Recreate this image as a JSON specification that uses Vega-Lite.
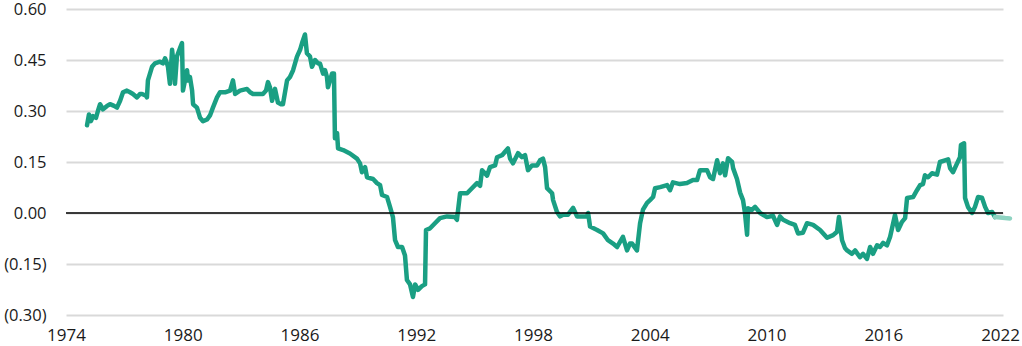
{
  "$schema": "https://vega.github.io/schema/vega-lite/v6.json",
  "width": 937,
  "height": 306,
  "autosize": {"type": "none"},
  "padding": {"left": 66, "top": 9, "right": 19, "bottom": 31},
  "background": "white",
  "config": {"view": {"stroke": null}, "font": "Open Sans"},
  "datasets": {
    "main": [
      {"year": 1975.08, "v": 0.258}, {"year": 1975.18, "v": 0.29}, {"year": 1975.28, "v": 0.27}, {"year": 1975.39, "v": 0.285},
      {"year": 1975.54, "v": 0.28}, {"year": 1975.64, "v": 0.30}, {"year": 1975.75, "v": 0.32}, {"year": 1975.90, "v": 0.305},
      {"year": 1976.11, "v": 0.315}, {"year": 1976.26, "v": 0.32}, {"year": 1976.47, "v": 0.315}, {"year": 1976.62, "v": 0.31},
      {"year": 1976.78, "v": 0.33}, {"year": 1976.93, "v": 0.355}, {"year": 1977.13, "v": 0.36}, {"year": 1977.29, "v": 0.355},
      {"year": 1977.44, "v": 0.35}, {"year": 1977.65, "v": 0.34}, {"year": 1977.80, "v": 0.35}, {"year": 1977.91, "v": 0.35},
      {"year": 1978.11, "v": 0.345}, {"year": 1978.16, "v": 0.34}, {"year": 1978.21, "v": 0.39}, {"year": 1978.42, "v": 0.43},
      {"year": 1978.57, "v": 0.44}, {"year": 1978.83, "v": 0.445}, {"year": 1978.98, "v": 0.44}, {"year": 1979.09, "v": 0.455},
      {"year": 1979.19, "v": 0.44}, {"year": 1979.24, "v": 0.43}, {"year": 1979.34, "v": 0.38}, {"year": 1979.45, "v": 0.48},
      {"year": 1979.55, "v": 0.43}, {"year": 1979.60, "v": 0.38}, {"year": 1979.70, "v": 0.46}, {"year": 1979.86, "v": 0.485},
      {"year": 1979.96, "v": 0.50}, {"year": 1980.01, "v": 0.36}, {"year": 1980.22, "v": 0.42}, {"year": 1980.27, "v": 0.39},
      {"year": 1980.37, "v": 0.40}, {"year": 1980.48, "v": 0.36}, {"year": 1980.53, "v": 0.32}, {"year": 1980.73, "v": 0.31},
      {"year": 1980.89, "v": 0.28}, {"year": 1981.04, "v": 0.27}, {"year": 1981.25, "v": 0.275}, {"year": 1981.40, "v": 0.287},
      {"year": 1981.55, "v": 0.31}, {"year": 1981.76, "v": 0.34}, {"year": 1981.91, "v": 0.355}, {"year": 1982.17, "v": 0.355},
      {"year": 1982.43, "v": 0.36}, {"year": 1982.58, "v": 0.39}, {"year": 1982.69, "v": 0.35}, {"year": 1982.94, "v": 0.36},
      {"year": 1983.30, "v": 0.365}, {"year": 1983.46, "v": 0.355}, {"year": 1983.61, "v": 0.35}, {"year": 1983.87, "v": 0.35},
      {"year": 1984.12, "v": 0.35}, {"year": 1984.28, "v": 0.36}, {"year": 1984.38, "v": 0.385}, {"year": 1984.48, "v": 0.37},
      {"year": 1984.59, "v": 0.33}, {"year": 1984.74, "v": 0.365}, {"year": 1984.89, "v": 0.325}, {"year": 1985.05, "v": 0.32},
      {"year": 1985.15, "v": 0.32}, {"year": 1985.36, "v": 0.39}, {"year": 1985.51, "v": 0.40}, {"year": 1985.67, "v": 0.42},
      {"year": 1985.87, "v": 0.46}, {"year": 1986.03, "v": 0.48}, {"year": 1986.13, "v": 0.50}, {"year": 1986.28, "v": 0.525},
      {"year": 1986.38, "v": 0.47}, {"year": 1986.54, "v": 0.46}, {"year": 1986.64, "v": 0.43}, {"year": 1986.80, "v": 0.45},
      {"year": 1986.95, "v": 0.44}, {"year": 1987.05, "v": 0.44}, {"year": 1987.21, "v": 0.41}, {"year": 1987.31, "v": 0.42},
      {"year": 1987.41, "v": 0.40}, {"year": 1987.46, "v": 0.37}, {"year": 1987.57, "v": 0.39}, {"year": 1987.67, "v": 0.41},
      {"year": 1987.77, "v": 0.41}, {"year": 1987.82, "v": 0.22}, {"year": 1987.93, "v": 0.235}, {"year": 1987.98, "v": 0.19},
      {"year": 1988.24, "v": 0.185}, {"year": 1988.59, "v": 0.175}, {"year": 1988.95, "v": 0.16}, {"year": 1989.11, "v": 0.146},
      {"year": 1989.21, "v": 0.12}, {"year": 1989.37, "v": 0.135}, {"year": 1989.47, "v": 0.105}, {"year": 1989.78, "v": 0.10},
      {"year": 1989.98, "v": 0.088}, {"year": 1990.14, "v": 0.082}, {"year": 1990.24, "v": 0.053}, {"year": 1990.50, "v": 0.047},
      {"year": 1990.65, "v": 0.018}, {"year": 1990.80, "v": -0.012}, {"year": 1990.91, "v": -0.08}, {"year": 1991.06, "v": -0.10},
      {"year": 1991.27, "v": -0.10}, {"year": 1991.42, "v": -0.125}, {"year": 1991.52, "v": -0.197}, {"year": 1991.68, "v": -0.21},
      {"year": 1991.83, "v": -0.247}, {"year": 1991.94, "v": -0.21}, {"year": 1992.09, "v": -0.226}, {"year": 1992.29, "v": -0.215},
      {"year": 1992.45, "v": -0.21}, {"year": 1992.50, "v": -0.05}, {"year": 1992.71, "v": -0.045}, {"year": 1992.96, "v": -0.03},
      {"year": 1993.22, "v": -0.015}, {"year": 1993.58, "v": -0.01}, {"year": 1993.99, "v": -0.012}, {"year": 1994.09, "v": -0.02},
      {"year": 1994.25, "v": 0.058}, {"year": 1994.61, "v": 0.058}, {"year": 1994.86, "v": 0.073}, {"year": 1995.12, "v": 0.088},
      {"year": 1995.28, "v": 0.08}, {"year": 1995.38, "v": 0.126}, {"year": 1995.64, "v": 0.11}, {"year": 1995.79, "v": 0.135},
      {"year": 1996.05, "v": 0.14}, {"year": 1996.15, "v": 0.164}, {"year": 1996.41, "v": 0.17}, {"year": 1996.56, "v": 0.18},
      {"year": 1996.71, "v": 0.19}, {"year": 1996.82, "v": 0.16}, {"year": 1996.97, "v": 0.146}, {"year": 1997.23, "v": 0.176},
      {"year": 1997.43, "v": 0.164}, {"year": 1997.59, "v": 0.17}, {"year": 1997.74, "v": 0.126}, {"year": 1997.95, "v": 0.14},
      {"year": 1998.21, "v": 0.14}, {"year": 1998.36, "v": 0.155}, {"year": 1998.51, "v": 0.16}, {"year": 1998.62, "v": 0.135},
      {"year": 1998.72, "v": 0.073}, {"year": 1998.98, "v": 0.058}, {"year": 1999.03, "v": 0.038}, {"year": 1999.23, "v": 0.003},
      {"year": 1999.39, "v": -0.01}, {"year": 1999.54, "v": -0.005}, {"year": 1999.80, "v": -0.005}, {"year": 2000.06, "v": 0.015},
      {"year": 2000.26, "v": -0.01}, {"year": 2000.77, "v": -0.01}, {"year": 2000.83, "v": 0.0}, {"year": 2000.93, "v": -0.04},
      {"year": 2001.29, "v": -0.05}, {"year": 2001.60, "v": -0.06}, {"year": 2001.85, "v": -0.08}, {"year": 2002.11, "v": -0.09},
      {"year": 2002.32, "v": -0.10}, {"year": 2002.47, "v": -0.085}, {"year": 2002.62, "v": -0.07}, {"year": 2002.83, "v": -0.11},
      {"year": 2002.98, "v": -0.09}, {"year": 2003.09, "v": -0.09}, {"year": 2003.34, "v": -0.11}, {"year": 2003.50, "v": -0.03},
      {"year": 2003.65, "v": 0.01}, {"year": 2003.86, "v": 0.03}, {"year": 2004.01, "v": 0.038}, {"year": 2004.17, "v": 0.047},
      {"year": 2004.27, "v": 0.073}, {"year": 2004.53, "v": 0.076}, {"year": 2004.89, "v": 0.082}, {"year": 2005.04, "v": 0.067},
      {"year": 2005.19, "v": 0.09}, {"year": 2005.55, "v": 0.085}, {"year": 2005.91, "v": 0.088}, {"year": 2006.22, "v": 0.097},
      {"year": 2006.43, "v": 0.097}, {"year": 2006.58, "v": 0.126}, {"year": 2006.94, "v": 0.126}, {"year": 2007.10, "v": 0.105},
      {"year": 2007.25, "v": 0.10}, {"year": 2007.46, "v": 0.155}, {"year": 2007.61, "v": 0.117}, {"year": 2007.76, "v": 0.146},
      {"year": 2007.87, "v": 0.111}, {"year": 2008.02, "v": 0.161}, {"year": 2008.23, "v": 0.15}, {"year": 2008.28, "v": 0.132},
      {"year": 2008.48, "v": 0.10}, {"year": 2008.64, "v": 0.06}, {"year": 2008.79, "v": 0.038}, {"year": 2008.89, "v": 0.0},
      {"year": 2009.00, "v": -0.064}, {"year": 2009.05, "v": 0.014}, {"year": 2009.25, "v": 0.009}, {"year": 2009.41, "v": 0.018},
      {"year": 2009.67, "v": 0.0}, {"year": 2010.02, "v": -0.012}, {"year": 2010.33, "v": -0.008}, {"year": 2010.54, "v": -0.035},
      {"year": 2010.69, "v": -0.01}, {"year": 2010.85, "v": -0.02}, {"year": 2011.21, "v": -0.03}, {"year": 2011.46, "v": -0.035},
      {"year": 2011.62, "v": -0.06}, {"year": 2011.87, "v": -0.058}, {"year": 2012.08, "v": -0.03}, {"year": 2012.39, "v": -0.035},
      {"year": 2012.75, "v": -0.05}, {"year": 2013.11, "v": -0.073}, {"year": 2013.42, "v": -0.065}, {"year": 2013.62, "v": -0.055},
      {"year": 2013.72, "v": -0.012}, {"year": 2013.88, "v": -0.08}, {"year": 2014.03, "v": -0.103}, {"year": 2014.14, "v": -0.11},
      {"year": 2014.39, "v": -0.12}, {"year": 2014.55, "v": -0.11}, {"year": 2014.80, "v": -0.13}, {"year": 2014.96, "v": -0.12},
      {"year": 2015.16, "v": -0.135}, {"year": 2015.32, "v": -0.10}, {"year": 2015.47, "v": -0.12}, {"year": 2015.68, "v": -0.095},
      {"year": 2015.83, "v": -0.10}, {"year": 2015.99, "v": -0.088}, {"year": 2016.19, "v": -0.095}, {"year": 2016.35, "v": -0.07},
      {"year": 2016.60, "v": -0.006}, {"year": 2016.76, "v": -0.05}, {"year": 2016.96, "v": -0.026}, {"year": 2017.12, "v": -0.015},
      {"year": 2017.22, "v": 0.044}, {"year": 2017.53, "v": 0.047}, {"year": 2017.73, "v": 0.067}, {"year": 2017.89, "v": 0.082},
      {"year": 2018.04, "v": 0.085}, {"year": 2018.14, "v": 0.111}, {"year": 2018.30, "v": 0.105}, {"year": 2018.50, "v": 0.117},
      {"year": 2018.76, "v": 0.113}, {"year": 2018.91, "v": 0.15}, {"year": 2019.17, "v": 0.155}, {"year": 2019.33, "v": 0.158},
      {"year": 2019.43, "v": 0.132}, {"year": 2019.58, "v": 0.12}, {"year": 2019.79, "v": 0.146}, {"year": 2019.94, "v": 0.164},
      {"year": 2019.99, "v": 0.20}, {"year": 2020.15, "v": 0.205}, {"year": 2020.20, "v": 0.044}, {"year": 2020.35, "v": 0.018},
      {"year": 2020.56, "v": 0.0}, {"year": 2020.71, "v": 0.018}, {"year": 2020.87, "v": 0.047}, {"year": 2021.07, "v": 0.045},
      {"year": 2021.23, "v": 0.018}, {"year": 2021.38, "v": 0.0}, {"year": 2021.59, "v": 0.003}, {"year": 2021.74, "v": -0.012}
    ],
    "proj": [
      {"year": 2021.74, "v": -0.012}, {"year": 2022.00, "v": -0.013}, {"year": 2022.26, "v": -0.015}, {"year": 2022.51, "v": -0.016}
    ]
  },
  "layer": [
    {
      "data": {"name": "main"},
      "mark": {"type": "line", "color": "#1a9f83", "strokeWidth": 4.5, "strokeJoin": "round", "strokeCap": "round"},
      "encoding": {
        "x": {
          "field": "year", "type": "quantitative",
          "scale": {"domain": [1974, 2022.15], "nice": false, "zero": false},
          "axis": {
            "values": [1974, 1980, 1986, 1992, 1998, 2004, 2010, 2016, 2022],
            "format": "d", "title": null, "grid": false, "domain": false, "ticks": false,
            "labelPadding": 12, "labelFontSize": 17, "labelColor": "#1a1a1a", "labelFont": "Open Sans",
            "labelFlush": false, "labelOverlap": false
          }
        },
        "y": {
          "field": "v", "type": "quantitative",
          "scale": {"domain": [-0.3, 0.6], "nice": false, "zero": false},
          "axis": {
            "values": [-0.3, -0.15, 0, 0.15, 0.3, 0.45, 0.6],
            "labelExpr": "datum.value < 0 ? '(' + format(-datum.value, '.2f') + ')' : format(datum.value, '.2f')",
            "title": null, "grid": true, "gridColor": "#d9d9d9", "gridWidth": 2,
            "domain": false, "ticks": false, "labelPadding": 20, "labelFontSize": 16.5,
            "labelColor": "#1a1a1a", "labelFont": "Open Sans"
          }
        }
      }
    },
    {
      "data": {"name": "proj"},
      "mark": {"type": "line", "color": "#8ed3c1", "strokeWidth": 4.5, "strokeCap": "round", "clip": false},
      "encoding": {
        "x": {"field": "year", "type": "quantitative"},
        "y": {"field": "v", "type": "quantitative"}
      }
    },
    {
      "data": {"values": [{"z": 0}]},
      "mark": {"type": "rule", "color": "#000000", "strokeWidth": 1.3},
      "encoding": {"y": {"field": "z", "type": "quantitative"}}
    }
  ]
}
